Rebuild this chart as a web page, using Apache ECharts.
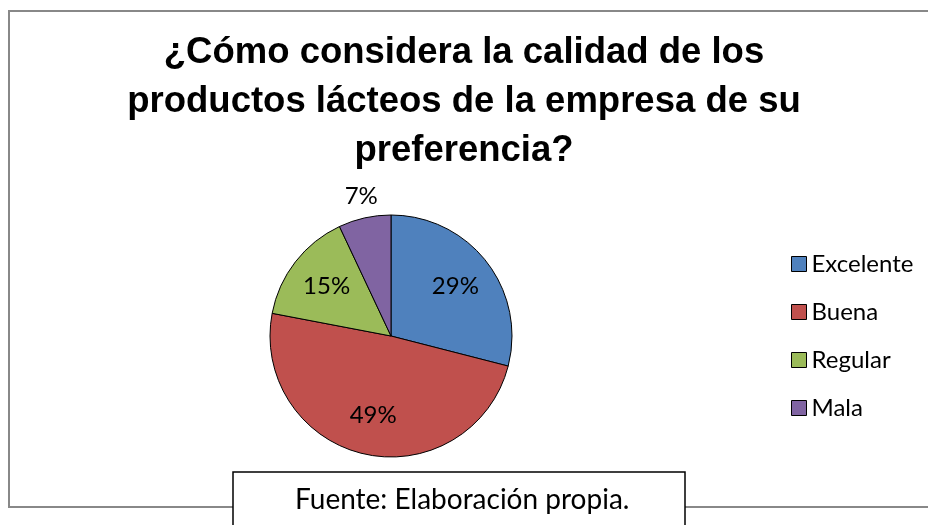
<!DOCTYPE html>
<html>
<head>
<meta charset="utf-8">
<script src="https://cdn.jsdelivr.net/npm/echarts@6/dist/echarts.min.js"></script>
<style>
    html, body { margin: 0; padding: 0; background: #fff; }
    #container1 { width: 928px; height: 525px; }
</style>
</head>
<body>
<div id="container1"></div>
<script>
var categories = ['Excelente', 'Buena', 'Regular', 'Mala'];
var percentValues = [29, 49, 15, 7];
var sliceColors = ['#4f81bd', '#c0504d', '#9bbb59', '#8064a2'];
var titleText = '¿Cómo considera la calidad de los\nproductos lácteos de la empresa de su\npreferencia?';
var sourceText = 'Fuente: Elaboración propia.';

(function container1() {
    var dom = document.getElementById("container1");
    var chart = echarts.init(dom);

    var pieData = categories.map(function (name, i) {
        return { value: percentValues[i], name: name };
    });
    // label ring: same values, labels sit further out than mid radius
    var labelData = categories.map(function (name, i) {
        var item = { value: percentValues[i], name: name };
        if (percentValues[i] < 10) {
            item.label = {
                position: 'outside',
                distanceToLabelLine: -18
            };
        }
        return item;
    });

    var option = {
        backgroundColor: '#fff',
        color: sliceColors,
        title: {
            text: titleText,
            left: 'center',
            top: 23,
            textStyle: {
                fontFamily: 'Liberation Sans',
                fontWeight: 'bold',
                fontSize: 36.5,
                lineHeight: 49,
                color: '#000'
            }
        },
        legend: {
            orient: 'vertical',
            left: 786,
            top: 247,
            itemWidth: 15,
            itemHeight: 15,
            itemGap: 24,
            icon: 'rect',
            itemStyle: {
                borderColor: '#000',
                borderWidth: 1
            },
            textStyle: {
                fontFamily: 'Lato',
                fontSize: 24,
                color: '#000'
            },
            data: categories
        },
        graphic: [
            {
                type: 'rect',
                z: 0,
                shape: { x: 9, y: 11, width: 960, height: 496 },
                style: { fill: 'none', stroke: '#888', lineWidth: 2 }
            },
            {
                type: 'rect',
                z: 10,
                shape: { x: 233, y: 472, width: 452, height: 80 },
                style: { fill: '#fff', stroke: '#000', lineWidth: 1.5 }
            },
            {
                type: 'text',
                z: 11,
                left: 295,
                top: 486,
                style: {
                    text: sourceText,
                    fontFamily: 'Lato',
                    fontSize: 28,
                    fill: '#000'
                }
            }
        ],
        series: [
            {
                name: 'Calidad',
                type: 'pie',
                center: [391, 336],
                radius: [0, 121],
                startAngle: 90,
                clockwise: true,
                silent: true,
                itemStyle: {
                    borderColor: '#000',
                    borderWidth: 1
                },
                label: { show: false },
                labelLine: { show: false },
                data: pieData
            },
            {
                name: 'Etiquetas',
                type: 'pie',
                center: [391, 336],
                radius: [36, 121],
                startAngle: 90,
                clockwise: true,
                silent: true,
                avoidLabelOverlap: false,
                itemStyle: {
                    color: 'rgba(0,0,0,0)',
                    borderWidth: 0
                },
                label: {
                    show: true,
                    position: 'inside',
                    formatter: '{c}%',
                    fontFamily: 'Lato',
                    fontSize: 24,
                    color: '#000'
                },
                labelLine: {
                    show: false,
                    length: 22,
                    length2: 0
                },
                data: labelData
            }
        ]
    };

    if (option && typeof option === "object") {
        chart.setOption(option, true);
    }
})();
</script>
</body>
</html>
